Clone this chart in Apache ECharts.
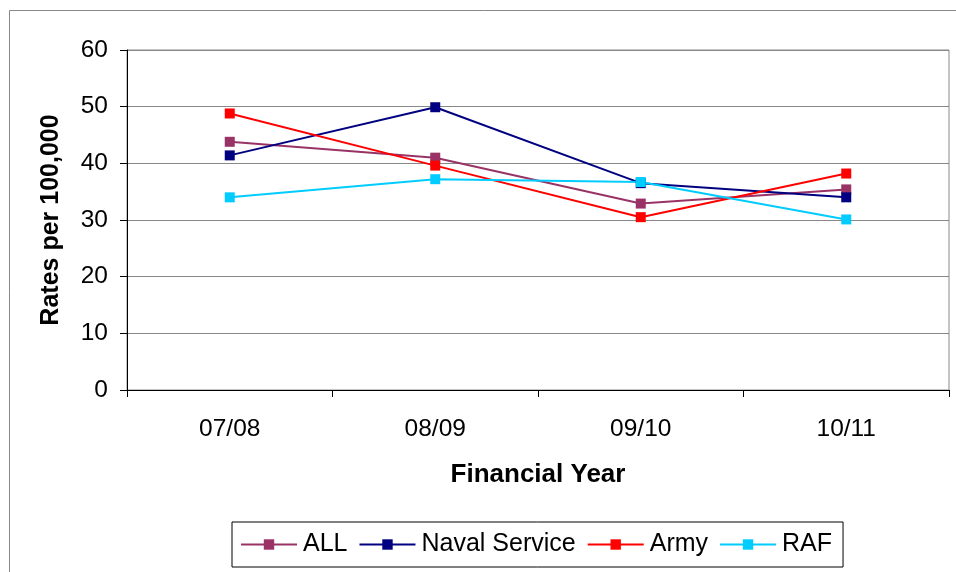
<!DOCTYPE html>
<html>
<head>
<meta charset="utf-8">
<script src="https://cdn.jsdelivr.net/npm/echarts@6/dist/echarts.min.js"></script>
<style>
html,body{margin:0;padding:0;background:#fff;}
#chart{width:956px;height:572px;}
</style>
</head>
<body>
<div id="chart"></div>
<script>
const categories = ['07/08', '08/09', '09/10', '10/11'];
const allValues = [43.8, 41.0, 32.9, 35.4];
const navalValues = [41.4, 49.9, 36.5, 34.0];
const armyValues = [48.8, 39.6, 30.5, 38.2];
const rafValues = [34.0, 37.2, 36.7, 30.1];
const yTicks = { min: 0, max: 60, interval: 10 };

const FONT = "'Liberation Sans', Arial, sans-serif";

function mkSeries(name, data, color) {
  return {
    name: name,
    type: 'line',
    data: data,
    symbol: 'rect',
    symbolSize: 10,
    lineStyle: { color: color, width: 2 },
    itemStyle: { color: color },
    emphasis: { disabled: true },
    animation: false
  };
}

const chart = echarts.init(document.getElementById('chart'), null, { renderer: 'canvas' });
chart.setOption({
  backgroundColor: '#ffffff',
  animation: false,
  textStyle: { fontFamily: FONT },
  graphic: [{
    type: 'rect',
    left: 7, top: 8,
    shape: { x: 0, y: 0, width: 980, height: 600 },
    style: { fill: 'none', stroke: '#888888', lineWidth: 1 },
    silent: true, z: -1
  }],
  grid: {
    left: 127, top: 50, right: 7, bottom: 182,
    show: true, borderColor: '#888888', borderWidth: 1, backgroundColor: 'transparent'
  },
  xAxis: {
    type: 'category',
    data: categories,
    boundaryGap: true,
    name: 'Financial Year',
    nameLocation: 'middle',
    nameGap: 72,
    nameTextStyle: { fontFamily: FONT, fontWeight: 'bold', fontSize: 26, color: '#000' },
    axisLine: { lineStyle: { color: '#000', width: 1 } },
    axisTick: { show: true, length: 7, lineStyle: { color: '#000' } },
    axisLabel: { fontFamily: FONT, fontSize: 24.5, color: '#000', margin: 27 },
    splitLine: { show: false }
  },
  yAxis: {
    type: 'value',
    min: yTicks.min, max: yTicks.max, interval: yTicks.interval,
    name: 'Rates per 100,000',
    nameLocation: 'middle',
    nameGap: 63,
    nameRotate: 90,
    nameTextStyle: { fontFamily: FONT, fontWeight: 'bold', fontSize: 25, color: '#000' },
    axisLine: { show: true, lineStyle: { color: '#000', width: 1 } },
    axisTick: { show: true, length: 7, lineStyle: { color: '#000' } },
    axisLabel: { fontFamily: FONT, fontSize: 24.5, color: '#000', margin: 19 },
    splitLine: { show: true, lineStyle: { color: '#888888', width: 1 } }
  },
  legend: {
    left: 232, top: 522,
    orient: 'horizontal',
    itemWidth: 56, itemHeight: 13, itemGap: 11,
    padding: [10, 11, 10, 8],
    borderColor: '#000', borderWidth: 1,
    textStyle: { fontFamily: FONT, fontSize: 25, color: '#000', padding: [0, 0, 0, 1] },
    data: ['ALL', 'Naval Service', 'Army', 'RAF']
  },
  series: [
    mkSeries('ALL', allValues, '#993366'),
    mkSeries('Naval Service', navalValues, '#000080'),
    mkSeries('Army', armyValues, '#FF0000'),
    mkSeries('RAF', rafValues, '#00CCFF')
  ]
});
</script>
</body>
</html>
